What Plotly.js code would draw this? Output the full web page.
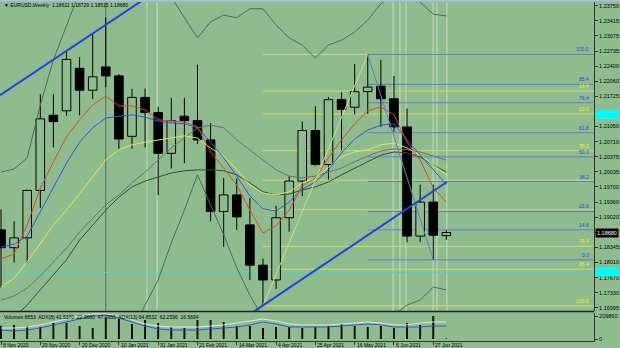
<!DOCTYPE html>
<html><head><meta charset="utf-8">
<script src="https://cdn.plot.ly/plotly-3.0.1.min.js"></script>
<style>html,body{margin:0;padding:0;background:#8fbc8f;}#chart{width:620px;height:348px;}</style>
</head><body><div id="chart"></div>
<script>
// ---- data ----
const weeks = ['2020-11-08','2020-11-15','2020-11-22','2020-11-29','2020-12-06','2020-12-13','2020-12-20','2020-12-27','2021-01-03','2021-01-10','2021-01-17','2021-01-24','2021-01-31','2021-02-07','2021-02-14','2021-02-21','2021-02-28','2021-03-07','2021-03-14','2021-03-21','2021-03-28','2021-04-04','2021-04-11','2021-04-18','2021-04-25','2021-05-02','2021-05-09','2021-05-16','2021-05-23','2021-05-30','2021-06-06','2021-06-13','2021-06-20','2021-06-27','2021-07-04'];
const open  = [1.1874,1.1834,1.1856,1.1962,1.2130,1.2140,1.2235,1.2186,1.2238,1.2218,1.2083,1.2170,1.2136,1.2045,1.2128,1.2118,1.2075,1.1915,1.1952,1.1885,1.1795,1.1762,1.1901,1.1983,1.2096,1.2020,1.2165,1.2148,1.2183,1.2195,1.2167,1.2104,1.1860,1.1936,1.18611];
const high  = [1.1920,1.1893,1.1964,1.2177,1.2177,1.2273,1.2260,1.2310,1.2349,1.2222,1.2189,1.2190,1.2149,1.2169,1.2169,1.2243,1.2113,1.1990,1.1989,1.1945,1.1810,1.1928,1.1994,1.2116,1.2150,1.2171,1.2181,1.2245,1.2266,1.2254,1.2218,1.2145,1.1975,1.1975,1.18729];
const low   = [1.1745,1.1801,1.1800,1.1923,1.2058,1.2129,1.2130,1.2166,1.2193,1.2054,1.2055,1.2058,1.1952,1.2011,1.2023,1.2066,1.1893,1.1836,1.1874,1.1762,1.1704,1.1742,1.1870,1.1949,1.2016,1.1986,1.2051,1.2132,1.2133,1.2104,1.2093,1.1846,1.1847,1.1807,1.18515];
const close = [1.1834,1.1856,1.1962,1.2122,1.2116,1.2255,1.2186,1.2216,1.2218,1.2077,1.2170,1.2136,1.2045,1.2118,1.2118,1.2075,1.1915,1.1952,1.1903,1.1795,1.1762,1.1901,1.1983,1.2096,1.2020,1.2165,1.2143,1.2183,1.2193,1.2167,1.2104,1.1860,1.1936,1.1862,1.18680];

const maRed    = [1.1809,1.1820,1.1885,1.1967,1.2026,1.2082,1.2120,1.2153,1.2173,1.2151,1.2151,1.2142,1.2120,1.2117,1.2115,1.2104,1.2048,1.2012,1.1974,1.1918,1.1867,1.1883,1.1918,1.1972,1.1990,1.2035,1.2075,1.2111,1.2140,1.2149,1.2131,1.2070,1.2030,1.1968,1.1936];
const maBlue   = [1.1836,1.1842,1.1860,1.1914,1.1970,1.2023,1.2070,1.2102,1.2124,1.2128,1.2131,1.2126,1.2117,1.2113,1.2111,1.2102,1.2070,1.2035,1.1994,1.1950,1.1921,1.1916,1.1936,1.1965,1.1981,1.2008,1.2046,1.2077,1.2097,1.2108,1.2111,1.2075,1.2041,1.2008,1.1975];
const maYellow = [1.1746,1.1766,1.1802,1.1845,1.1885,1.1918,1.1956,1.1992,1.2030,1.2053,1.2064,1.2070,1.2075,1.2079,1.2084,1.2079,1.2057,1.2039,1.2008,1.1974,1.1956,1.1952,1.1959,1.1979,1.1990,1.2014,1.2037,1.2048,1.2053,1.2064,1.2068,1.2057,1.2041,1.2019,1.1997];
const maDark   = [1.1650,1.1677,1.1706,1.1740,1.1773,1.1807,1.1851,1.1885,1.1918,1.1947,1.1970,1.1983,1.1992,1.2001,1.2006,1.2008,1.2008,1.2006,1.1997,1.1979,1.1959,1.1952,1.1954,1.1963,1.1970,1.1981,1.1997,1.2012,1.2026,1.2041,1.2048,1.2046,1.2037,1.2019,1.2003];
const bandMid  = [1.1717,1.1726,1.1744,1.1771,1.1802,1.1833,1.1869,1.1900,1.1930,1.1952,1.1979,1.2003,1.2030,1.2057,1.2079,1.2102,1.2108,1.2102,1.2075,1.2053,1.2030,1.2008,1.1994,1.1990,1.1994,1.2003,1.2012,1.2026,1.2039,1.2050,1.2055,1.2053,1.2048,1.2039,1.2030];
const bandUp   = [1.2003,1.2010,1.2035,1.2153,1.2254,1.2332,1.2406,1.2432,1.2444,1.2444,1.2444,1.2432,1.2415,1.2394,1.2350,1.2303,1.2339,1.2354,1.2348,1.2368,1.2368,1.2332,1.2303,1.2287,1.2258,1.2287,1.2298,1.2316,1.2343,1.2379,1.2399,1.2394,1.2383,1.2356,1.2352];
const bandLow  = [1.1494,1.1505,1.1527,1.1538,1.1550,1.1572,1.1583,1.1601,1.1617,1.1632,1.1650,1.1706,1.1762,1.1845,1.1918,1.1997,1.1930,1.1863,1.1789,1.1728,1.1677,1.1650,1.1639,1.1639,1.1650,1.1650,1.1655,1.1659,1.1668,1.1673,1.1684,1.1706,1.1717,1.1746,1.1740];

const volume   = [120000,127700,118600,109500,146000,146000,118600,100400,195000,182500,136900,173400,146000,109500,100400,173400,173400,155100,118600,118600,100400,109500,109500,100400,109500,118600,136900,118600,109500,118600,100400,146000,127700,209860,4000];
const adxMain  = [23.6,21.4,23.6,27.9,34.3,40.7,47.1,53.6,55.7,49.3,40.7,32.1,25.7,23.6,23.6,23.6,25.7,27.9,30.0,34.3,40.7,36.4,30.0,30.0,30.0,30.0,32.1,34.3,36.4,34.3,30.0,30.0,30.0,32.1,32.1];
const adxSlow  = [27.9,27.9,30.0,34.3,40.7,47.1,53.6,57.9,57.9,53.6,45.0,36.4,32.1,30.0,30.0,30.0,32.1,34.3,38.6,42.9,47.1,42.9,36.4,34.3,34.3,34.3,36.4,38.6,40.7,38.6,34.3,34.3,38.6,40.7,40.7];

const priceTicks = [1.23750,1.23415,1.23075,1.22735,1.22400,1.22060,1.21725,1.21385,1.21050,1.20710,1.20375,1.20035,1.19700,1.19360,1.19020,1.18680,1.18345,1.18010,1.17670,1.17330,1.16995];
// tick labels hidden behind the price boxes on the right axis
const hiddenTicks = [1.21385, 1.18680];
const dateLabelDates = ['2020-11-08','2020-11-29','2020-12-20','2021-01-10','2021-01-31','2021-02-21','2021-03-14','2021-04-04','2021-04-25','2021-05-16','2021-06-06','2021-06-27'];
const dateLabelText  = ['8 Nov 2020','29 Nov 2020','20 Dec 2020','10 Jan 2021','31 Jan 2021','21 Feb 2021','14 Mar 2021','4 Apr 2021','25 Apr 2021','16 May 2021','6 Jun 2021','27 Jun 2021'];

const fibBlueStart = '2021-05-23';
const fibBluePrices = [1.1807,1.1874,1.1915,1.1982,1.2037,1.2091,1.2158,1.2199,1.2266];
const fibBlueLabels = ['0.0','14.6','23.6','38.2','50.0','61.8','76.4','85.4','100.0'];
const fibYellowStart = '2021-03-28';
const fibYellowPrices = [1.2266,1.2184,1.2133,1.2051,1.1985,1.1919,1.1837,1.1786,1.1704];
const fibYellowLabels = ['','14.6','23.6','38.2','','','76.4','85.4','100.0'];
const fibBlueDiag = {x:['2021-05-23','2021-06-27'], y:[1.2266,1.1807]};
const fibYellowDiag = {x:['2021-03-28','2021-05-23'], y:[1.1704,1.2266]};

const trendUpper = {x:['2020-11-07 11:10','2021-01-26 14:00'], y:[1.2175,1.2398]};
const trendLower = {x:['2021-03-22','2021-07-04 07:00'], y:[1.1688,1.1981]};
const cyanLevels = [1.2131, 1.1779];
const vLineDark = ['2021-01-03'];
const vLineLight = ['2021-01-25','2021-01-30 10:00','2021-06-05 12:00','2021-06-09 05:00','2021-06-12 10:00','2021-06-26 22:00','2021-06-29','2021-07-04 07:00'];

const headerText = '▼ EURUSD,Weekly  1.18611 1.18729 1.18515 1.18680';
const volText = 'Volumes 8853  ADX(8) 41.5370  22.3660  47.0955  ADX(13) 64.8532  62.2596  16.5694';
const lastPrice = 1.18680;

// ---- layout constants ----
const BG = '#8fbc8f';
const X_RANGE = ['2020-11-07 11:10','2021-09-20 21:40'];
const XDOM = [0, 0.95806];
const MAIN_DOM = [0.10632, 0.99425];
const VOL_DOM = [0.02011, 0.10057];
const FONT = 'Liberation Sans, Arial, sans-serif';

// ---- traces ----
const bull = {x:[],base:[],y:[]}, bear = {x:[],base:[],y:[]};
const wx = [], wy = [];
for (let i=0;i<weeks.length;i++){
  const top = Math.max(open[i],close[i]), bot = Math.min(open[i],close[i]);
  const t = close[i] >= open[i] ? bull : bear;
  t.x.push(weeks[i]); t.base.push(bot); t.y.push(top-bot);
  wx.push(weeks[i],weeks[i],null,weeks[i],weeks[i],null);
  wy.push(high[i],top,null,bot,low[i],null);
}
const candleW = 4.6*86400000;
const traces = [
  {type:'bar',x:bull.x,base:bull.base,y:bull.y,width:candleW,marker:{color:BG,line:{color:'#000',width:1}},xaxis:'x',yaxis:'y',hoverinfo:'skip'},
  {type:'bar',x:bear.x,base:bear.base,y:bear.y,width:candleW,marker:{color:'#000',line:{color:'#000',width:1}},xaxis:'x',yaxis:'y',hoverinfo:'skip'},
  {type:'scatter',mode:'lines',x:wx,y:wy,line:{color:'#000',width:1},connectgaps:false,xaxis:'x',yaxis:'y',hoverinfo:'skip'},
  {type:'scatter',mode:'lines',x:weeks,y:bandUp,line:{color:'#56665a',width:1},xaxis:'x',yaxis:'y',hoverinfo:'skip'},
  {type:'scatter',mode:'lines',x:weeks,y:bandLow,line:{color:'#56665a',width:1},xaxis:'x',yaxis:'y',hoverinfo:'skip'},
  {type:'scatter',mode:'lines',x:weeks,y:bandMid,line:{color:'#66766a',width:1},xaxis:'x',yaxis:'y',hoverinfo:'skip'},
  {type:'scatter',mode:'lines',x:weeks,y:maDark,line:{color:'#3c4a30',width:1},xaxis:'x',yaxis:'y',hoverinfo:'skip'},
  {type:'scatter',mode:'lines',x:weeks,y:maYellow,line:{color:'#e6e650',width:1},xaxis:'x',yaxis:'y',hoverinfo:'skip'},
  {type:'scatter',mode:'lines',x:weeks,y:maBlue,line:{color:'#3355dd',width:1},xaxis:'x',yaxis:'y',hoverinfo:'skip'},
  {type:'scatter',mode:'lines',x:weeks,y:maRed,line:{color:'#e0452a',width:1},xaxis:'x',yaxis:'y',hoverinfo:'skip'},
  {type:'bar',x:weeks,y:volume,width:1.0*86400000,marker:{color:'#000'},xaxis:'x',yaxis:'y2',hoverinfo:'skip'},
  {type:'scatter',mode:'lines',x:weeks,y:adxSlow,line:{color:'#dfe8dc',width:1},xaxis:'x',yaxis:'y3',hoverinfo:'skip'},
  {type:'scatter',mode:'lines',x:weeks,y:adxMain,line:{color:'#3355dd',width:1},xaxis:'x',yaxis:'y3',hoverinfo:'skip'}
];

// ---- shapes ----
const shapes = [];
vLineLight.forEach(d=>shapes.push({type:'line',xref:'x',yref:'paper',x0:d,x1:d,y0:MAIN_DOM[0],y1:MAIN_DOM[1],line:{color:'#c4dcbc',width:1},layer:'below'}));
vLineDark.forEach(d=>shapes.push({type:'line',xref:'x',yref:'paper',x0:d,x1:d,y0:MAIN_DOM[0],y1:MAIN_DOM[1],line:{color:'#5a6a58',width:1},layer:'below'}));
cyanLevels.slice(1).forEach(p=>shapes.push({type:'line',xref:'paper',yref:'y',x0:0,x1:XDOM[1],y0:p,y1:p,line:{color:'#48d8c8',width:1},layer:'below'}));
fibYellowPrices.forEach(p=>shapes.push({type:'line',xref:'x',yref:'y',x0:fibYellowStart,x1:X_RANGE[1],y0:p,y1:p,line:{color:'#d4d868',width:1},layer:'below'}));
fibBluePrices.forEach(p=>shapes.push({type:'line',xref:'x',yref:'y',x0:fibBlueStart,x1:X_RANGE[1],y0:p,y1:p,line:{color:'#5f80c4',width:1},layer:'below'}));
shapes.push({type:'line',xref:'x',yref:'y',x0:fibYellowDiag.x[0],x1:fibYellowDiag.x[1],y0:fibYellowDiag.y[0],y1:fibYellowDiag.y[1],line:{color:'#c8e27a',width:1}});
shapes.push({type:'line',xref:'x',yref:'y',x0:fibBlueDiag.x[0],x1:fibBlueDiag.x[1],y0:fibBlueDiag.y[0],y1:fibBlueDiag.y[1],line:{color:'#5f80c4',width:1}});
shapes.push({type:'line',xref:'x',yref:'y',x0:trendUpper.x[0],x1:trendUpper.x[1],y0:trendUpper.y[0],y1:trendUpper.y[1],line:{color:'#2244dd',width:2}});
shapes.push({type:'line',xref:'x',yref:'y',x0:trendLower.x[0],x1:trendLower.x[1],y0:trendLower.y[0],y1:trendLower.y[1],line:{color:'#2244dd',width:2}});
shapes.push({type:'line',xref:'paper',yref:'paper',x0:0,x1:XDOM[1],y0:0.10489,y1:0.10489,line:{color:'#222',width:1.5}});
shapes.push({type:'line',xref:'paper',yref:'paper',x0:0,x1:1,y0:0.9985,y1:0.9985,line:{color:'#a8c0e4',width:2}});

// ---- annotations ----
const ann = [];
ann.push({xref:'paper',yref:'paper',x:0.004,y:0.9855,xanchor:'left',yanchor:'middle',text:headerText,showarrow:false,font:{family:FONT,size:5,color:'#000'}});
ann.push({xref:'paper',yref:'paper',x:0.003,y:0.0905,xanchor:'left',yanchor:'middle',text:volText,showarrow:false,font:{family:FONT,size:5,color:'#000'}});
dateLabelDates.forEach((d,i)=>ann.push({xref:'x',yref:'paper',x:d,y:0.0095,xanchor:'left',yanchor:'middle',text:dateLabelText[i],showarrow:false,font:{family:FONT,size:5,color:'#000'}}));
fibYellowPrices.forEach((p,i)=>{ if(fibYellowLabels[i]) ann.push({xref:'paper',yref:'y',x:0.953,y:p,xanchor:'right',yanchor:'bottom',text:fibYellowLabels[i],showarrow:false,font:{family:FONT,size:5,color:'#f2f200'}}); });
fibBluePrices.forEach((p,i)=>ann.push({xref:'paper',yref:'y',x:0.953,y:p,xanchor:'right',yanchor:'bottom',text:fibBlueLabels[i],showarrow:false,font:{family:FONT,size:5,color:'#2646e0'}}));
cyanLevels.forEach(p=>ann.push({xref:'paper',yref:'y',x:0.9597,y:p,xanchor:'left',yanchor:'middle',text:p.toFixed(5),showarrow:false,bgcolor:'#00ffff',borderpad:1,font:{family:FONT,size:5.5,color:'#00eded'}}));
ann.push({xref:'paper',yref:'y',x:0.9597,y:lastPrice,xanchor:'left',yanchor:'middle',text:lastPrice.toFixed(5),showarrow:false,bgcolor:'#000',borderpad:1,font:{family:FONT,size:5.5,color:'#fff'}});

const layout = {
  width:620,height:348,margin:{l:0,r:0,t:0,b:0},
  paper_bgcolor:BG,plot_bgcolor:BG,showlegend:false,barmode:'overlay',
  xaxis:{type:'date',range:X_RANGE,domain:XDOM,anchor:'y2',showgrid:false,zeroline:false,showticklabels:false,
         tickmode:'array',tickvals:dateLabelDates,ticks:'outside',ticklen:3,tickcolor:'#333',showline:true,linecolor:'#333',linewidth:1},
  yaxis:{domain:MAIN_DOM,range:[1.16926,1.23832],side:'right',anchor:'x',showgrid:false,zeroline:false,
         tickmode:'array',tickvals:priceTicks,ticktext:priceTicks.map(v=>hiddenTicks.includes(v)?'':v.toFixed(5)),ticks:'outside',ticklen:3,tickcolor:'#333',
         tickfont:{family:FONT,size:5.5,color:'#000'},showline:true,linecolor:'#333',linewidth:1},
  yaxis2:{domain:VOL_DOM,range:[-18248,237224],side:'right',anchor:'x',showgrid:false,zeroline:false,
         tickmode:'array',tickvals:[209860,0],ticktext:['209860','0'],ticks:'outside',ticklen:3,tickcolor:'#333',
         tickfont:{family:FONT,size:5.5,color:'#000'},showline:true,linecolor:'#333',linewidth:1},
  yaxis3:{overlaying:'y2',range:[0,60],visible:false},
  shapes:shapes,annotations:ann
};
Plotly.newPlot('chart',traces,layout,{staticPlot:true,displayModeBar:false});
</script></body></html>
